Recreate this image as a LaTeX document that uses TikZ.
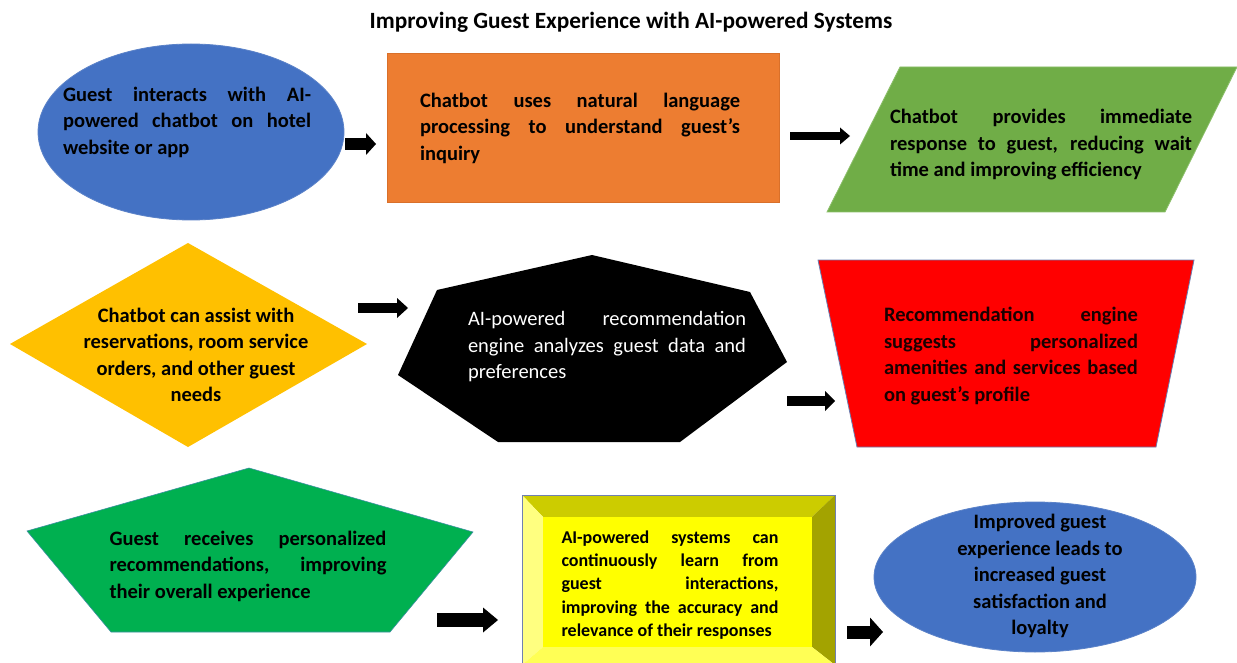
\documentclass[tikz,border=0pt]{standalone}
\usepackage{fontspec}
\setmainfont{Carlito}
\usetikzlibrary{arrows.meta}
\definecolor{eblue}{HTML}{4472C4}
\definecolor{eblueline}{HTML}{5B82C8}
\definecolor{orangebox}{HTML}{ED7D31}
\definecolor{orangeline}{HTML}{D9702A}
\definecolor{greenpar}{HTML}{70AD47}
\definecolor{greenparline}{HTML}{8CBF6A}
\definecolor{gold}{HTML}{FFC000}
\definecolor{redbox}{HTML}{FF0000}
\definecolor{redline}{HTML}{6A7DB0}
\definecolor{greenpent}{HTML}{00B050}
\definecolor{greenpentline}{HTML}{3C8FA0}
\definecolor{bevelin}{HTML}{FFFF00}
\definecolor{beveltop}{HTML}{CCCC00}
\definecolor{bevelleft}{HTML}{FFFF80}
\definecolor{bevelright}{HTML}{A3A300}
\definecolor{bevelbottom}{HTML}{FFFF55}
\definecolor{bevelline}{HTML}{7080B0}
\definecolor{redtext}{HTML}{1A0000}
\begin{document}
\begin{tikzpicture}[x=1pt,y=-1pt,
  bodytext/.style={font=\bfseries\fontsize{20.5}{26.5}\selectfont, align=justify, inner sep=0pt},
  centertext/.style={font=\bfseries\fontsize{20.5}{26.5}\selectfont, align=center, inner sep=0pt},
  titletext/.style={font=\bfseries\fontsize{23.3}{27}\selectfont, inner sep=0pt},
  blockarrow/.style={draw=none, fill=black}
]
\useasboundingbox (0,0) rectangle (1237,663);
\fill[white] (0,0) rectangle (1237,663);

% title
\node[titletext] (title) at (631,22) {Improving Guest Experience with AI-powered Systems};

% row 1 shapes
\draw[eblueline, fill=eblue, line width=0.8pt] (191,132) ellipse [x radius=153, y radius=88];
\node[bodytext, text width=248] (t1) at (187,122) {Guest interacts with AI-\linebreak powered chatbot on hotel\linebreak website or app};

\draw[orangeline, fill=orangebox, line width=0.8pt] (387,53) rectangle (779,202);
\node[bodytext, text width=320] (t2) at (580,128) {Chatbot uses natural language\linebreak processing to understand guest's\linebreak inquiry};

\draw[greenparline, fill=greenpar, line width=0.8pt] (900,67) -- (1237,67) -- (1165,212) -- (827,212) -- cycle;
\node[bodytext, text width=302] (t3) at (1041,145) {Chatbot provides immediate\linebreak response to guest, reducing wait\linebreak time and improving efficiency};

% row 2 shapes
\fill[gold] (10,344) -- (188,243) -- (367,344) -- (188,447) -- cycle;
\node[centertext] (t4) at (196,355) {Chatbot can assist with\\reservations, room service\\orders, and other guest\\needs};

\fill[black] (592,255) -- (750,292) -- (787,362) -- (680,442) -- (498,442) -- (398,375) -- (437,290) -- cycle;
\node[bodytext, font=\fontsize{20.5}{26.5}\selectfont, text=white, text width=278] (t5) at (607,347) {AI-powered recommendation\linebreak engine analyzes guest data and\linebreak preferences};

\draw[redline, fill=redbox, line width=0.8pt] (818,260) -- (1194,260) -- (1156,447) -- (857,447) -- cycle;
\node[bodytext, text=redtext, text width=254] (t6) at (1011,356) {Recommendation engine\linebreak suggests personalized\linebreak amenities and services based\linebreak on guest's profile};

% row 3 shapes
\draw[greenpentline, fill=greenpent, line width=0.6pt] (249,468) -- (473,532) -- (390,632) -- (111,632) -- (27,531) -- cycle;
\node[bodytext, text width=277] (t7) at (248,566) {Guest receives personalized\linebreak recommendations, improving\linebreak their overall experience};

\fill[beveltop] (522,495) -- (835,495) -- (812,517) -- (543,517) -- cycle;
\fill[bevelleft] (522,495) -- (543,517) -- (543,647) -- (522,665) -- cycle;
\fill[bevelright] (835,495) -- (835,665) -- (812,647) -- (812,517) -- cycle;
\fill[bevelbottom] (522,665) -- (543,647) -- (812,647) -- (835,665) -- cycle;
\fill[bevelin] (543,517) rectangle (812,647);
\draw[bevelline, line width=0.8pt] (522,665) -- (522,495) -- (835,495) -- (835,665);
\node[bodytext, font=\bfseries\fontsize{18}{23.3}\selectfont, text width=217] (t8) at (670,585) {AI-powered systems can\linebreak continuously learn from\linebreak guest interactions,\linebreak improving the accuracy and\linebreak relevance of their responses};

\draw[eblueline, fill=eblue, line width=0.8pt] (1035,577) ellipse [x radius=161, y radius=75];
\node[centertext] (t9) at (1040,576) {Improved guest\\experience leads to\\increased guest\\satisfaction and\\loyalty};

% block arrows
\coordinate (a1s) at (345,144); \coordinate (a1e) at (376,144);
\coordinate (a2s) at (790,136); \coordinate (a2e) at (850,136);
\coordinate (a3s) at (358,308); \coordinate (a3e) at (408,308);
\coordinate (a4s) at (787,401); \coordinate (a4e) at (835,401);
\coordinate (a5s) at (437,620); \coordinate (a5e) at (498,620);
\coordinate (a6s) at (847,632); \coordinate (a6e) at (883,632);
\draw[line width=12pt, -{Triangle[length=10pt, width=22pt, line width=0pt]}] (a1s) -- (a1e);
\draw[line width=8pt, -{Triangle[length=10pt, width=17pt, line width=0pt]}] (a2s) -- (a2e);
\draw[line width=10pt, -{Triangle[length=11pt, width=20pt, line width=0pt]}] (a3s) -- (a3e);
\draw[line width=10pt, -{Triangle[length=10pt, width=20pt, line width=0pt]}] (a4s) -- (a4e);
\draw[line width=14pt, -{Triangle[length=15pt, width=25pt, line width=0pt]}] (a5s) -- (a5e);
\draw[line width=13pt, -{Triangle[length=13pt, width=29pt, line width=0pt]}] (a6s) -- (a6e);
\end{tikzpicture}
\end{document}
